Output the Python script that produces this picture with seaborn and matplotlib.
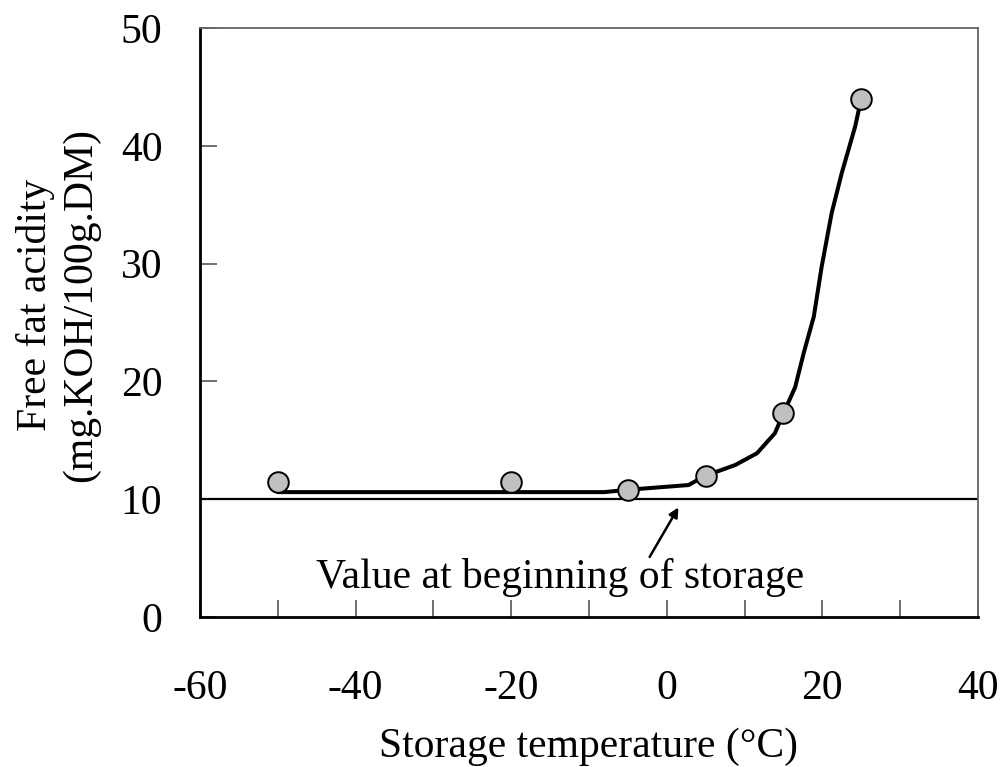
import matplotlib
matplotlib.use("Agg")
import matplotlib.pyplot as plt
import seaborn as sns
import pandas as pd

# Measured points
temps = [-50, -20, -5, 5, 15, 25]
acidity = [11.5, 11.5, 10.8, 12.0, 17.3, 44.0]

# Fitted curve
curve_x = [-50, -8, -5, 2.8, 5, 8.8, 11.6, 13.9, 15, 16.5, 17.6, 18.9, 19.9, 21.2, 22.5, 24.2, 25]
curve_y = [10.6, 10.6, 10.8, 11.2, 12.0, 12.9, 13.9, 15.6, 17.3, 19.5, 22.4, 25.5, 29.7, 34.3, 37.7, 41.6, 44.0]

initial_value = 10
x_ticks = [-60, -40, -20, 0, 20, 40]
x_minor = [-50, -30, -10, 10, 30]
y_ticks = [0, 10, 20, 30, 40, 50]

sns.set_style("ticks")
plt.rcParams['font.family'] = ['Liberation Serif', 'DejaVu Serif']
plt.rcParams['axes.unicode_minus'] = False
plt.rcParams['text.color'] = 'black'
plt.rcParams['axes.labelcolor'] = 'black'
plt.rcParams['xtick.labelcolor'] = 'black'
plt.rcParams['ytick.labelcolor'] = 'black'

fig = plt.figure(figsize=(10.02, 7.67), dpi=100)
ax = fig.add_axes([0.1996, 0.1956, 0.7764, 0.7679])

pts = pd.DataFrame({"t": temps, "a": acidity})
cur = pd.DataFrame({"t": curve_x, "a": curve_y})

ax.axhline(initial_value, color="black", lw=1.6, zorder=1)
sns.lineplot(data=cur, x="t", y="a", ax=ax, color="black", lw=2.9, sort=False, zorder=2)
sns.scatterplot(data=pts, x="t", y="a", ax=ax, s=220, color="#c0c0c0",
                edgecolor="black", linewidth=1.4, zorder=3)

ax.text(-13.75, 2.46, "Value at beginning of storage", fontsize=30,
        ha="center", va="baseline", color="black")
ax.annotate("", xy=(1.5, 9.3), xytext=(-2.2, 5.1),
            arrowprops=dict(arrowstyle="-|>", color="black", lw=1.8,
                            mutation_scale=14, shrinkA=0, shrinkB=0))

ax.set_xlim(-60, 40)
ax.set_ylim(0, 50)
ax.set_xticks(x_ticks)
ax.set_xticks(x_minor, minor=True)
ax.set_yticks(y_ticks)
ax.tick_params(axis="both", which="both", direction="in", length=12, width=1.2,
               color="#555555", labelsize=30)
ax.tick_params(axis="x", which="major", pad=38)
ax.tick_params(axis="y", which="major", pad=27)

for s in ["left", "bottom"]:
    ax.spines[s].set_color("black")
    ax.spines[s].set_linewidth(2.0)
for s in ["top", "right"]:
    ax.spines[s].set_visible(True)
    ax.spines[s].set_color("#666666")
    ax.spines[s].set_linewidth(1.3)

ax.set_xlabel("Storage temperature (°C)", fontsize=30, labelpad=14)
ax.set_ylabel("")
fig.text(0.058, 0.602, "Free fat acidity\n(mg.KOH/100g.DM)", rotation=90,
         ha="center", va="center", fontsize=30, linespacing=1.25)

fig.savefig("out.png", dpi=100)
